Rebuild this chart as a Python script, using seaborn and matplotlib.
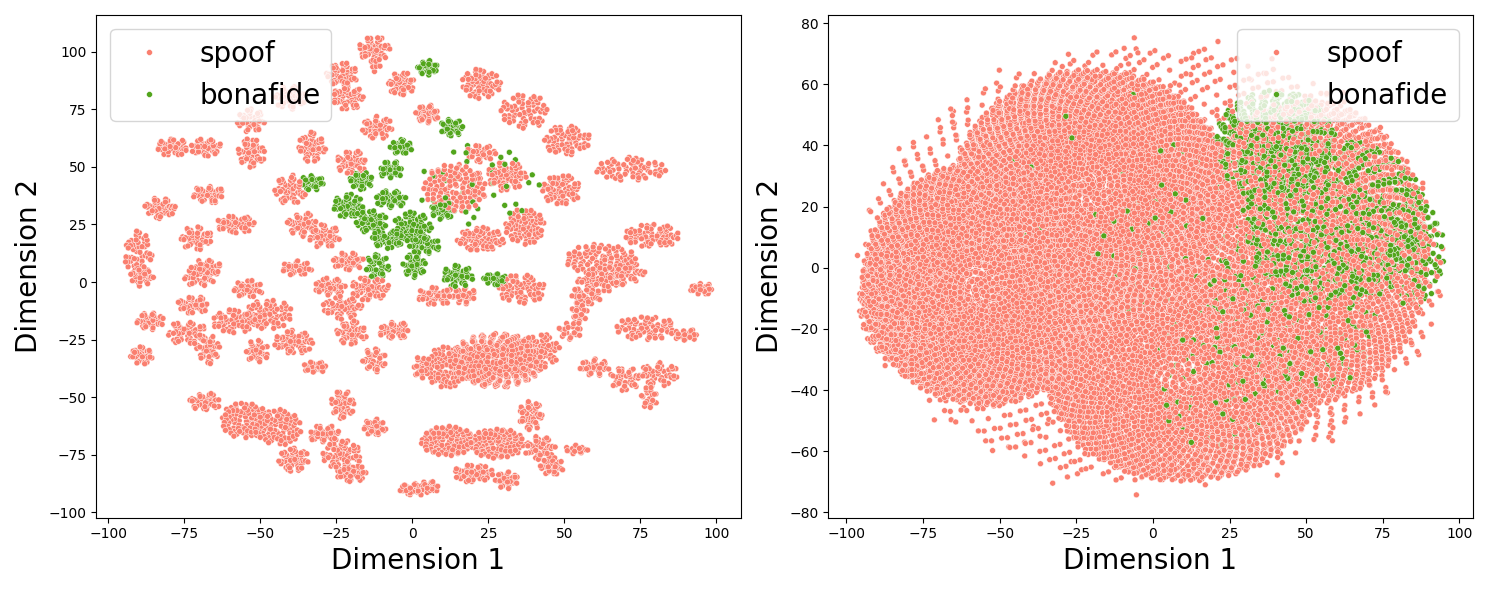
import numpy as np
import pandas as pd
import matplotlib
matplotlib.use("Agg")
import matplotlib.pyplot as plt
import seaborn as sns

# t-SNE clusters: centre x, centre y, half-width, half-height, point count
# left panel - spoof
ls_x = [-12.5, -12, -23, -21, -40, -53, -3.6, -11.5, -53, -79, -68, -33, -20, -67, -83, -40, -58, -71,
        -90, -36, -29, -21, -38, -68, -89, -70, -27, -54, -14, -86, -72, -74, -58, -67, -47, -39, -51,
        -23, -20, -6, -12.5, -32, -89, -68, -55, -44, -39, -23, -23, -20, -12.5, -29, 1, 3,
        22.6, 37, 51, 72, 22.6, 14, 31, 49, 37, 22.6, 79, 62, 5,
        8, 36, 62, 70, 57, 55, 95, 28, 11, 42, 77, 90, 81, 70, 60, 78, 39, 12, 28, 42, 46, 20, 31, 5,
        54, 17, 52]
ls_y = [101, 94, 90, 80, 80, 70, 86, 67, 56, 58.5, 58.5, 58.5, 52, 38, 32, 40, 25, 19,
        12, 25, 20, 9, 6, 6, 2, 2, -2, -3, -3, -17, -10, -22, -17, -29, -14, -26, -30,
        -11, -22, -21, -34, -37, -32, -52, -60, -63, -77, -53, -75, -83, -63, -66, -90, -37,
        86, 74, 61.5, 49, 56, 41, 46, 40, 24, 18.5, 20, 10, 73,
        -6, -3, 1, 4, -6, -13, -3, -34, -37, -30, -20, -23, -40, -42, -37, -50, -58, -69, -70, -72,
        -80, -83, -86, -89, -72.7, -6, -21]
ls_rx = [4, 1.5, 4, 4, 4, 3.5, 3.5, 4, 3.5, 4, 4, 3.5, 4, 4, 4, 4, 5, 4,
         3.5, 4, 4, 4, 4, 4, 3, 4, 4, 4, 5, 3.5, 4, 5, 6, 3, 6, 5, 3,
         5, 4, 4, 3, 3, 3, 4, 6, 6, 4, 3, 5, 4, 3, 4, 4, 2,
         5, 6, 6, 9, 4, 8, 5, 5, 5, 6, 7, 9, 3,
         5, 6, 6, 5, 4, 2, 3, 12, 5, 5, 8, 3, 5, 4, 4, 2, 3, 7, 7, 4, 3, 5, 3, 3,
         3, 3, 3]
ls_ry = [4.5, 3, 4, 4, 4, 4, 4, 4, 5, 3, 3, 5, 4, 3, 3.5, 5, 3, 4,
         8, 4, 4, 3, 2.5, 3, 3, 3, 3, 3, 4, 3, 3, 4, 4, 5, 5, 4, 4,
         4, 4, 3, 4, 2, 3, 3, 6, 6, 4, 5, 5, 3, 3, 3, 2, 4,
         5, 6, 5, 4, 3, 8, 5, 5, 6, 4, 4, 5, 3,
         3, 5, 4, 4, 3, 4, 2, 9, 7, 6, 4, 2, 4, 4, 3, 4, 5, 5, 5, 4, 3, 3, 3, 2,
         1.5, 3, 3]
ls_n = [45, 8, 45, 45, 40, 35, 40, 40, 45, 40, 40, 45, 40, 35, 40, 45, 45, 40,
        55, 40, 40, 35, 30, 35, 25, 30, 40, 35, 50, 35, 35, 45, 55, 35, 60, 50, 30,
        45, 40, 35, 30, 25, 35, 35, 80, 80, 45, 40, 55, 35, 30, 35, 30, 20,
        60, 60, 60, 60, 30, 120, 60, 60, 70, 60, 60, 80, 35,
        40, 60, 50, 40, 30, 20, 25, 350, 80, 60, 60, 20, 40, 35, 30, 20, 40, 100, 100, 40, 30, 50, 30, 25,
        15, 25, 20]

# left panel - bonafide
lb_x = [5, 13, -3.6, -7, -33, -16.7, -21, -7, -13.4, 0, -8, -11.5, 0.6, 15, 27, 10, 4, 22]
lb_y = [93, 67, 58.5, 48.6, 43, 44, 33, 36, 26, 24, 18.5, 7, 7, 2.6, 1.3, 31, 16, 42]
lb_rx = [2.5, 3, 3, 3, 3, 3, 4, 4, 4, 5, 4, 3, 3, 4, 3, 3, 4, 16]
lb_ry = [2.5, 3, 2.5, 3, 2.5, 3, 4, 3, 4, 5, 3, 4, 4, 4, 2, 3, 3, 14]
lb_n = [30, 30, 30, 30, 30, 35, 50, 40, 50, 60, 40, 35, 35, 40, 25, 30, 35, 40]

# right panel - spoof
rs_x = [-55, -20, 10, 50, 0, -80, 0]
rs_y = [-5, 25, -35, 5, 1, -12, 1]
rs_rx = [40, 45, 45, 40, 95, 16, 97]
rs_ry = [40, 40, 35, 50, 71, 20, 76]
rs_n = [3500, 4000, 3000, 3000, 2000, 600, 300]

# right panel - bonafide
rb_x = [40, 60, 45, 20, 10, 85, -20]
rb_y = [40, 15, -15, -35, 10, 5, 30]
rb_rx = [20, 30, 28, 20, 30, 10, 30]
rb_ry = [18, 27, 30, 25, 30, 18, 30]
rb_n = [550, 750, 300, 80, 90, 120, 20]

labels = ["spoof", "bonafide"]
palette = {"spoof": "#FA7F6F", "bonafide": "#52A51C"}

# plastic-number (R2) low-discrepancy steps used to spread points inside a cluster
g = 1.32471795724474602596
a1, a2 = 1 / g, 1 / g ** 2


def blobs(xs, ys, rxs, rys, ns, label, start=0):
    frames = []
    i0 = start
    for cx, cy, rx, ry, n in zip(xs, ys, rxs, rys, ns):
        k = np.arange(i0, i0 + n)
        u = (0.5 + a1 * k) % 1
        v = (0.5 + a2 * k) % 1
        r = np.sqrt(u)
        t = 2 * np.pi * v
        frames.append(pd.DataFrame({"x": cx + rx * r * np.cos(t),
                                    "y": cy + ry * r * np.sin(t)}))
        i0 += n + 7
    df = pd.concat(frames, ignore_index=True)
    df["label"] = label
    return df


def panel(spoof, bonafide):
    df = pd.concat([spoof, bonafide], ignore_index=True)
    # interleave the draw order so neither class always sits on top
    df["order"] = (np.arange(len(df)) * 0.6180339887) % 1
    return df.sort_values("order").reset_index(drop=True)


left = panel(blobs(ls_x, ls_y, [r * 1.3 for r in ls_rx], [r * 1.3 for r in ls_ry], ls_n, "spoof"),
             blobs(lb_x, lb_y, [r * 1.3 for r in lb_rx], [r * 1.3 for r in lb_ry], lb_n, "bonafide", 50000))
right = panel(blobs(rs_x, rs_y, rs_rx, rs_ry, rs_n, "spoof"),
              blobs(rb_x, rb_y, rb_rx, rb_ry, rb_n, "bonafide", 90000))

fig, axes = plt.subplots(1, 2, figsize=(14.9, 5.9))

for ax, df, loc in zip(axes, [left, right], ["upper left", "upper right"]):
    sns.scatterplot(data=df, x="x", y="y", hue="label", hue_order=labels,
                    palette=palette, s=18, ax=ax)
    ax.set_xlabel("Dimension 1", fontsize=20)
    ax.set_ylabel("Dimension 2", fontsize=20)
    sns.move_legend(ax, loc, fontsize=20, title=None)

plt.tight_layout()
plt.savefig("out.png", dpi=100)
